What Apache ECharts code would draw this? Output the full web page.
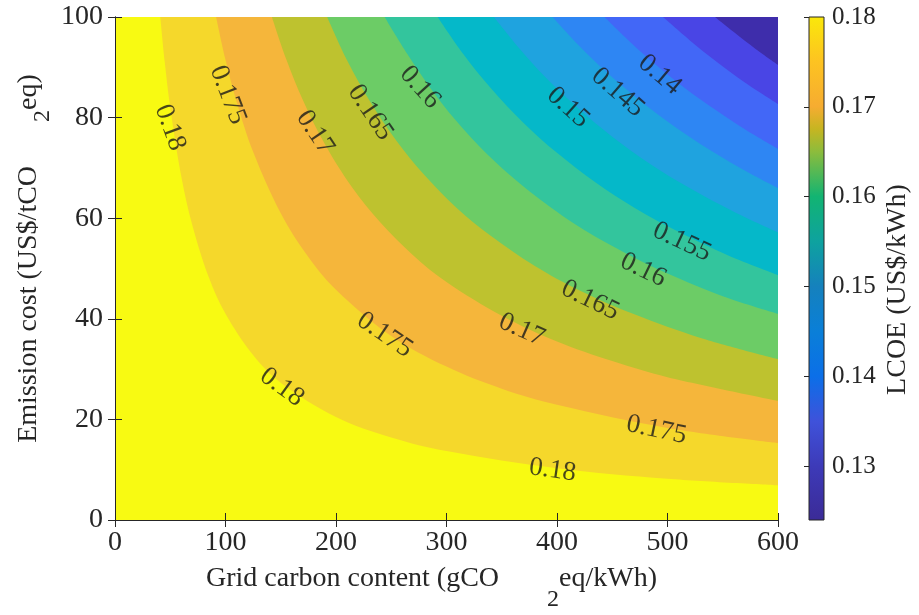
<!DOCTYPE html>
<html>
<head>
<meta charset="utf-8">
<script src="https://cdn.jsdelivr.net/npm/echarts@6/dist/echarts.min.js"></script>
<style>
  html, body { margin: 0; padding: 0; background: #fff; }
  #chart { width: 919px; height: 615px; }
</style>
</head>
<body>
<div id="chart"></div>
<script>
// contour levels of LCOE (US$/kWh)
const levels = [0.18, 0.175, 0.17, 0.165, 0.16, 0.155, 0.15, 0.145, 0.14, 0.135, 0.13]

// contour lines: [grid carbon content, emission cost]
const line180 = [[41, 100], [45, 91.1], [50, 82], [60, 68.3], [70, 58.6], [85, 48.2], [100, 41], [125, 32.8], [150, 27.3], [200, 20.5], [250, 16.4], [300, 13.7], [400, 10.3], [500, 8.2], [600, 6.9]]
const line175 = [[91.5, 100], [100, 91.5], [110, 83.2], [125, 73.2], [150, 61], [175, 52.3], [200, 45.8], [250, 36.6], [300, 30.5], [350, 26.1], [400, 22.9], [500, 18.3], [600, 15.3]]
const line170 = [[142, 100], [155, 91.6], [170, 83.5], [190, 74.7], [215, 66], [240, 59.2], [270, 52.6], [300, 47.3], [350, 40.6], [400, 35.5], [450, 31.6], [500, 28.4], [600, 23.7]]
const line165 = [[192, 100], [210, 91.4], [230, 83.5], [255, 75.3], [280, 68.6], [310, 61.9], [340, 56.5], [380, 50.5], [420, 45.7], [470, 40.9], [530, 36.2], [600, 32]]
const line160 = [[244, 100], [265, 92.5], [290, 84.5], [315, 77.8], [345, 71], [380, 64.5], [420, 58.3], [460, 53.3], [500, 49], [550, 44.5], [600, 41]]
const line155 = [[292, 100], [315, 92.7], [340, 85.9], [370, 78.9], [400, 73], [435, 67.1], [470, 62.1], [510, 57.3], [555, 52.6], [600, 48.7]]
const line150 = [[343, 100], [365, 94], [390, 87.9], [420, 81.7], [450, 76.2], [485, 70.7], [520, 66], [560, 61.3], [600, 57.2]]
const line145 = [[396, 100], [420, 94.3], [445, 89], [470, 84.3], [500, 79.2], [530, 74.7], [565, 70.1], [600, 66]]
const line140 = [[443, 100], [465, 95.3], [490, 90.4], [515, 86], [545, 81.3], [570, 77.7], [600, 73.8]]
const line135 = [[496, 100], [520, 95.4], [545, 91], [570, 87], [600, 82.7]]
const line130 = [[543, 100], [560, 97], [580, 93.6], [600, 90.5]]
const contourLines = [line180, line175, line170, line165, line160, line155, line150, line145, line140, line135, line130]

// inline contour labels
const labelText = ['0.18', '0.175', '0.17', '0.165', '0.16', '0.15', '0.145', '0.14', '0.155', '0.16', '0.165', '0.17', '0.175', '0.18', '0.175', '0.18']
const labelX = [49.8, 102, 181, 231, 276, 410, 455, 493, 513, 478, 430, 368, 244, 151, 490, 396]
const labelY = [78, 84.5, 77, 81, 86, 82, 85, 88.5, 55.3, 49.7, 43.7, 37.8, 36.8, 26.4, 17.9, 9.9]
const labelAngle = [-70, -69, -56, -56, -48, -42, -41, -40, -25, -26, -26, -24, -34, -36, -12, -8]

// colour bar
const cbMin = 0.124
const cbMax = 0.18
const cbTicks = [0.13, 0.14, 0.15, 0.16, 0.17, 0.18]
const cbStopValues = [0.124, 0.13, 0.135, 0.14, 0.145, 0.15, 0.155, 0.16, 0.165, 0.1675, 0.17, 0.175, 0.18]

// styles
const font = 'Liberation Serif'
const ink = '#262626'
const topColor = '#f8fa12'
const bandColors = ['#f5d82b', '#f5b63b', '#bec22f', '#6ccc66', '#33c59d', '#05b8c9', '#1fa3df', '#2e86f3', '#4267f7', '#4945e5', '#3e2dab']
const cbStopColors = ['#3b2b97', '#3d3ab8', '#3f52da', '#0b6fe8', '#0a7fd8', '#1581bd', '#0ea29f', '#12b472', '#8dbc3c', '#c6b521', '#f6ac31', '#fdc321', '#fae80a']

const chart = echarts.init(document.getElementById('chart'))

const areaSeries = contourLines.map((pts, i) => ({
  type: 'line',
  name: String(levels[i]),
  xAxisIndex: 0,
  yAxisIndex: 0,
  data: pts,
  symbol: 'none',
  smooth: 0.35,
  silent: true,
  lineStyle: { width: 0, opacity: 0 },
  areaStyle: { color: bandColors[i], opacity: 1, origin: 'end' }
}))

const labelSeries = {
  type: 'scatter',
  xAxisIndex: 0,
  yAxisIndex: 0,
  symbolSize: 1,
  silent: true,
  z: 5,
  itemStyle: { color: 'rgba(0,0,0,0)' },
  data: labelText.map((t, i) => ({
    value: [labelX[i], labelY[i]],
    text: t,
    label: { rotate: labelAngle[i] }
  })),
  label: {
    show: true,
    position: 'inside',
    formatter: p => p.data.text,
    fontFamily: font,
    fontSize: 27,
    color: '#1a1a1a'
  }
}

const colorbarSeries = {
  type: 'custom',
  xAxisIndex: 2,
  yAxisIndex: 2,
  silent: true,
  data: [[0, cbMin, 1, cbMax]],
  renderItem: (params, api) => {
    const p0 = api.coord([api.value(0), api.value(3)])
    const p1 = api.coord([api.value(2), api.value(1)])
    const stops = cbStopValues.map((v, i) => ({
      offset: (v - cbMin) / (cbMax - cbMin),
      color: cbStopColors[i]
    }))
    return {
      type: 'rect',
      shape: { x: p0[0], y: p0[1], width: p1[0] - p0[0], height: p1[1] - p0[1] },
      style: {
        fill: new echarts.graphic.LinearGradient(0, 1, 0, 0, stops),
        stroke: ink,
        lineWidth: 1
      }
    }
  }
}

const frameAxis = {
  axisLine: { show: true, lineStyle: { color: ink, width: 1 } },
  axisTick: { show: true, inside: true, length: 7, lineStyle: { color: ink } },
  splitLine: { show: false },
  z: 10
}
const tickLabel = { fontFamily: font, fontSize: 28, color: ink }
const subRich = (pad) => ({
  t: { fontFamily: font, fontSize: 28, color: ink },
  s: { fontFamily: font, fontSize: 24, color: ink, padding: pad }
})

chart.setOption({
  animation: false,
  backgroundColor: '#fff',
  grid: [
    { left: 115, top: 17, width: 663, height: 503, show: true, backgroundColor: topColor, borderWidth: 0, outerBoundsMode: 'none' },
    { left: 809, top: 17, width: 15, height: 503, outerBoundsMode: 'none' }
  ],
  xAxis: [
    {
      ...frameAxis, gridIndex: 0, type: 'value', position: 'bottom', min: 0, max: 600, interval: 100,
      axisLabel: { ...tickLabel, margin: 9 },
      name: '{t|Grid carbon content (gCO}{s|2}{t|eq/kWh)}',
      nameLocation: 'middle',
      nameGap: 26,
      nameMoveOverlap: false,
      nameTextStyle: { fontFamily: font, fontSize: 28, color: ink, padding: [0, 30, 0, 0], rich: subRich([42, 0, 0, 48]) }
    },
    { ...frameAxis, gridIndex: 0, type: 'value', position: 'top', min: 0, max: 600, interval: 100, axisLabel: { show: false } },
    { gridIndex: 1, type: 'value', min: 0, max: 1, show: false }
  ],
  yAxis: [
    {
      ...frameAxis, gridIndex: 0, type: 'value', position: 'left', min: 0, max: 100, interval: 20,
      axisLabel: { ...tickLabel, margin: 12 },
      name: '{t|Emission cost (US$/tCO}{s|2}{t|eq)}',
      nameLocation: 'middle',
      nameGap: 60,
      nameRotate: 90,
      nameMoveOverlap: false,
      nameTextStyle: { fontFamily: font, fontSize: 28, color: ink, padding: [0, 0, 0, 20], rich: subRich([28, 0, 0, 44]) }
    },
    { ...frameAxis, gridIndex: 0, type: 'value', position: 'right', min: 0, max: 100, interval: 20, axisLabel: { show: false } },
    {
      gridIndex: 1, type: 'value', position: 'right', min: cbMin, max: cbMax,
      axisLine: { show: false },
      splitLine: { show: false },
      axisTick: { show: true, inside: true, length: 5, lineStyle: { color: ink }, customValues: cbTicks },
      axisLabel: { fontFamily: font, fontSize: 25, color: ink, margin: 8, customValues: cbTicks, formatter: v => v.toFixed(2) },
      name: 'LCOE (US$/kWh)',
      nameLocation: 'middle',
      nameGap: 60,
      nameRotate: 90,
      nameMoveOverlap: false,
      nameTextStyle: { fontFamily: font, fontSize: 28, color: ink, padding: [0, 42, 0, 0] },
      z: 10
    }
  ],
  series: [...areaSeries, labelSeries, colorbarSeries]
})
</script>
</body>
</html>
